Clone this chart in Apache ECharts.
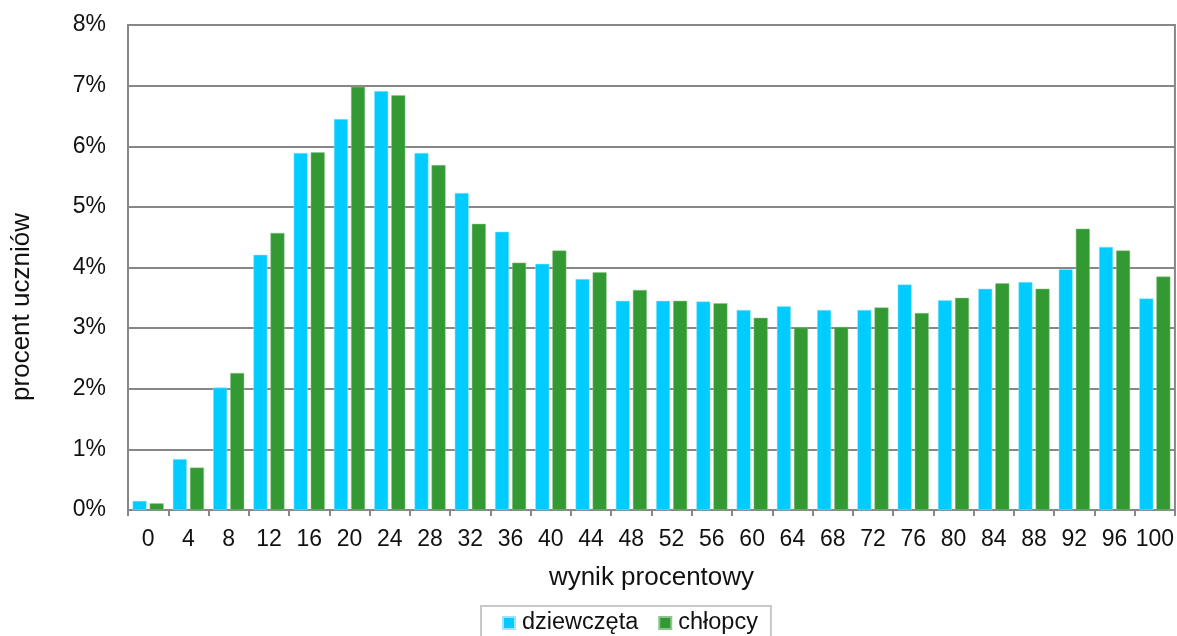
<!DOCTYPE html>
<html>
<head>
<meta charset="utf-8">
<script src="https://cdn.jsdelivr.net/npm/echarts@6/dist/echarts.min.js"></script>
<style>
  html, body { margin: 0; padding: 0; background: #fff; }
  #main { width: 1177px; height: 636px; }
</style>
</head>
<body>
<div id="main"></div>
<script>
// wynik procentowy (0..100 co 4)
var categories = ['0','4','8','12','16','20','24','28','32','36','40','44','48','52','56','60','64','68','72','76','80','84','88','92','96','100'];
var dziewczeta = [0.15, 0.84, 2.02, 4.21, 5.89, 6.45, 6.91, 5.89, 5.23, 4.59, 4.06, 3.81, 3.45, 3.45, 3.44, 3.30, 3.36, 3.30, 3.30, 3.72, 3.46, 3.65, 3.76, 3.97, 4.34, 3.49];
var chlopcy = [0.11, 0.70, 2.26, 4.57, 5.90, 6.98, 6.84, 5.69, 4.72, 4.08, 4.28, 3.92, 3.63, 3.45, 3.41, 3.17, 3.01, 3.02, 3.34, 3.25, 3.50, 3.74, 3.65, 4.64, 4.28, 3.85];

var chartDom = document.getElementById('main');
var myChart = echarts.init(chartDom);
var font = 'Liberation Sans, Arial, sans-serif';
var lineCol = '#878787';

var option = {
    animation: false,
    textStyle: { fontFamily: font },
    grid: {
        left: 128,
        right: 2,
        top: 25,
        bottom: 126,
        show: true,
        borderColor: lineCol,
        borderWidth: 2
    },
    // os Y - podpis obrocony
    graphic: [{
        type: 'text',
        x: 22,
        y: 307,
        rotation: Math.PI / 2,
        style: {
            text: 'procent uczniów',
            font: '26px ' + font,
            fill: '#111',
            align: 'center',
            verticalAlign: 'middle'
        }
    }],
    legend: {
        data: ['dziewczęta', 'chłopcy'],
        left: 481,
        top: 606,
        itemWidth: 12,
        itemHeight: 12,
        itemGap: 20,
        icon: 'rect',
        padding: [5, 13, 12, 21],
        borderColor: '#c8c8c8',
        borderWidth: 2,
        textStyle: { fontSize: 23.5, color: '#111', fontFamily: font, padding: [0, 0, 0, 2] }
    },
    xAxis: {
        type: 'category',
        data: categories,
        name: 'wynik procentowy',
        nameLocation: 'middle',
        nameGap: 55,
        nameTextStyle: { fontSize: 26, color: '#111' },
        axisLine: { lineStyle: { color: lineCol, width: 2 } },
        axisTick: { show: true, length: 6, lineStyle: { color: lineCol, width: 2 } },
        axisLabel: { fontSize: 23, color: '#111', margin: 18, interval: 0 }
    },
    yAxis: {
        type: 'value',
        min: 0,
        max: 8,
        interval: 1,
        axisLine: { show: true, lineStyle: { color: lineCol, width: 2 } },
        axisTick: { show: false },
        splitLine: { lineStyle: { color: lineCol, width: 2 } },
        axisLabel: { fontSize: 23, color: '#111', margin: 22, formatter: '{value}%' }
    },
    series: [
        {
            name: 'dziewczęta',
            type: 'bar',
            data: dziewczeta,
            barWidth: 14,
            barGap: '22%',
            itemStyle: { color: '#00ccff', borderColor: '#9be6ff', borderWidth: 0.5 }
        },
        {
            name: 'chłopcy',
            type: 'bar',
            data: chlopcy,
            barWidth: 14,
            itemStyle: { color: '#339933', borderColor: '#8cc48c', borderWidth: 0.5 }
        }
    ]
};
option && myChart.setOption(option);
</script>
</body>
</html>
